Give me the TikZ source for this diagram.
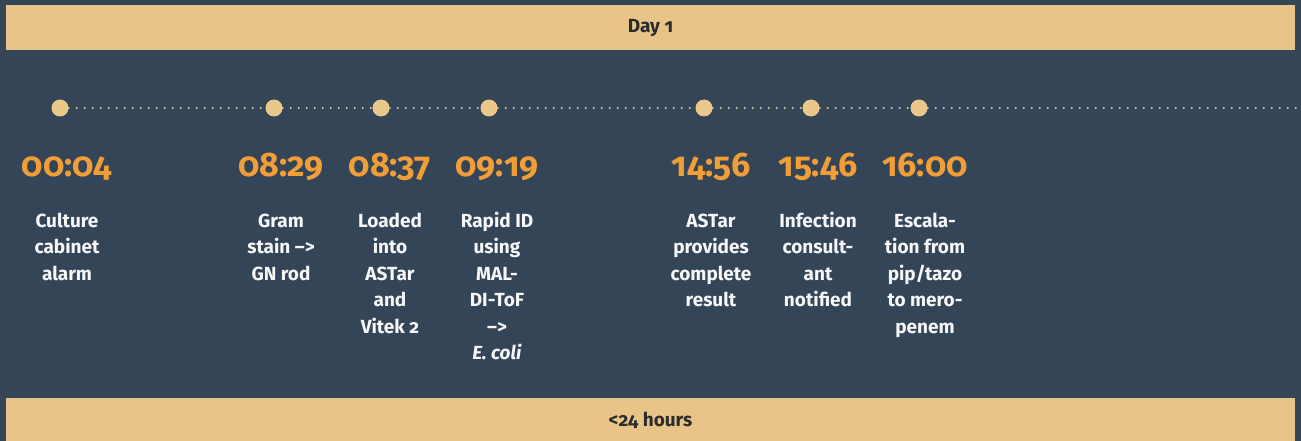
\documentclass[tikz,border=0pt]{standalone}
\usepackage{fontspec}
\setmainfont{Fira Sans}[Numbers=OldStyle]
\definecolor{bg}{HTML}{344558}
\definecolor{band}{HTML}{E8C488}
\definecolor{dotc}{HTML}{EBC88A}
\definecolor{timec}{HTML}{F29E38}
\definecolor{desc}{HTML}{F7F7F7}
\definecolor{bandtext}{HTML}{2B2B2B}
\tikzset{
  bandbox/.style={fill=band, draw=none, minimum width=1289pt, minimum height=45pt, inner sep=0pt,
    font=\fontsize{19}{22}\selectfont\bfseries, text=bandtext},
  evdot/.style={circle, fill=dotc, draw=none, minimum size=17pt, inner sep=0pt},
  dotline/.style={dotc, line width=2.3pt, line cap=round, dash pattern=on 0pt off 8pt},
  timelbl/.style={anchor=base, text=timec, inner sep=0pt, font=\fontsize{34}{38}\selectfont\bfseries},
  desclbl/.style={anchor=north, align=center, text=desc, inner sep=0pt,
    font=\fontsize{19}{26.5}\selectfont\bfseries}
}
\begin{document}
\begin{tikzpicture}[x=1pt,y=-1pt]
\fill[bg] (0,0) rectangle (1301,441);
\useasboundingbox (0,0) rectangle (1301,441);
\node[bandbox] (day) at (650.5,28) {Day 1};
\node[bandbox, minimum height=44pt] (hours) at (650.5,420) {<24 hours};

\node[evdot] (d1) at (60,108) {};
\node[evdot] (d2) at (274,108) {};
\node[evdot] (d3) at (381,108) {};
\node[evdot] (d4) at (489,108) {};
\node[evdot] (d5) at (704,108) {};
\node[evdot] (d6) at (811,108) {};
\node[evdot] (d7) at (919,108) {};
\coordinate (tend) at (1301,108);
\draw[dotline] (d1) -- (d2);
\draw[dotline] (d2) -- (d3);
\draw[dotline] (d3) -- (d4);
\draw[dotline] (d4) -- (d5);
\draw[dotline] (d5) -- (d6);
\draw[dotline] (d6) -- (d7);
\draw[dotline] (d7) -- (tend);

\node[timelbl] (t1) at (67,176.5) {00:04};
\node[timelbl] (t2) at (281,176.5) {08:29};
\node[timelbl] (t3) at (390,176.5) {08:37};
\node[timelbl] (t4) at (497,176.5) {09:19};
\node[timelbl] (t5) at (711,176.5) {14:56};
\node[timelbl] (t6) at (818,176.5) {15:46};
\node[timelbl] (t7) at (925,176.5) {16:00};

\node[desclbl] (e1) at (67,208.5) {\strut Culture\\cabinet\\alarm};
\node[desclbl] (e2) at (281,208.5) {\strut Gram\\stain –>\\GN rod};
\node[desclbl] (e3) at (390,208.5) {\strut Loaded\\into\\ASTar\\and\\Vitek 2};
\node[desclbl] (e4) at (497,208.5) {\strut Rapid ID\\using\\MAL-\\DI-ToF\\–>\\\textit{E. coli}};
\node[desclbl] (e5) at (711,208.5) {\strut ASTar\\provides\\complete\\result};
\node[desclbl] (e6) at (818,208.5) {\strut Infection\\consult-\\ant\\notified};
\node[desclbl] (e7) at (925,208.5) {\strut Escala-\\tion from\\pip/tazo\\to mero-\\penem};
\end{tikzpicture}
\end{document}
